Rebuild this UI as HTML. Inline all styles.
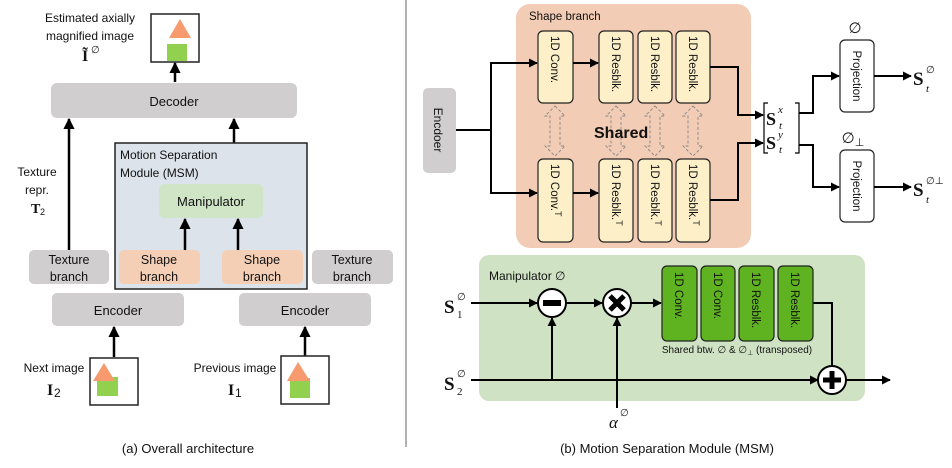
<!DOCTYPE html>
<html><head><meta charset="utf-8"><style>
html,body{margin:0;padding:0;background:#fff}
svg{display:block}
text{font-family:"Liberation Sans","DejaVu Sans",sans-serif;fill:#111}
.s{font-family:"Liberation Serif",serif}
</style></head><body>
<svg width="952" height="468" viewBox="0 0 952 468" xmlns="http://www.w3.org/2000/svg">
<defs>
<marker id="a" viewBox="0 0 10 10" refX="9" refY="5" markerWidth="4.5" markerHeight="4.5" orient="auto-start-reverse"><path d="M0,0L10,5L0,10z" fill="#000"/></marker>
</defs>
<line x1="406" y1="0" x2="406" y2="447" stroke="#999" stroke-width="1.5"/>

<!-- LEFT PANEL -->
<text x="90" y="22" font-size="12" text-anchor="middle">Estimated axially</text>
<text x="90" y="40" font-size="12" text-anchor="middle">magnified image</text>
<text x="82" y="61" font-size="16" font-weight="bold" class="s">Ĩ</text><text x="91" y="53" font-size="10">∅</text>
<rect x="151" y="14" width="48" height="48" fill="#fff" stroke="#222" stroke-width="1.5"/>
<polygon points="180,19 191,38 169,38" fill="#f79a6d"/>
<rect x="167" y="44" width="20" height="17" fill="#92d050"/>
<line x1="175" y1="82" x2="175" y2="63" stroke="#000" stroke-width="2.5" marker-end="url(#a)"/>
<rect x="51" y="83" width="246" height="35" rx="6" fill="#d0cecf"/>
<text x="174" y="106" font-size="13" text-anchor="middle">Decoder</text>
<line x1="69" y1="250" x2="69" y2="119" stroke="#000" stroke-width="2.5" marker-end="url(#a)"/>
<line x1="234" y1="184" x2="234" y2="119" stroke="#000" stroke-width="2.5" marker-end="url(#a)"/>
<text x="37" y="176" font-size="12" text-anchor="middle">Texture</text>
<text x="37" y="194" font-size="12" text-anchor="middle">repr.</text>
<text x="31" y="213" font-size="14" font-weight="bold" class="s">T</text><text x="40" y="215" font-size="9">2</text>
<rect x="115" y="143" width="192" height="146" fill="#dce3ea" stroke="#222" stroke-width="1.5"/>
<text x="120" y="159" font-size="12">Motion Separation</text>
<text x="120" y="177" font-size="12">Module (MSM)</text>
<rect x="159" y="184" width="104" height="34" rx="5" fill="#cfe5c6"/>
<text x="211" y="206" font-size="13" text-anchor="middle">Manipulator</text>
<line x1="185" y1="250" x2="185" y2="219" stroke="#000" stroke-width="2.5" marker-end="url(#a)"/>
<line x1="238" y1="250" x2="238" y2="219" stroke="#000" stroke-width="2.5" marker-end="url(#a)"/>
<rect x="119" y="250" width="81" height="34" rx="5" fill="#f4cfb6"/>
<rect x="222" y="250" width="81" height="34" rx="5" fill="#f4cfb6"/>
<rect x="29" y="250" width="80" height="34" rx="5" fill="#d0cecf"/>
<rect x="312" y="250" width="81" height="34" rx="5" fill="#d0cecf"/>
<g font-size="12.5" text-anchor="middle">
<text x="159" y="264">Shape</text><text x="159" y="281">branch</text>
<text x="262" y="264">Shape</text><text x="262" y="281">branch</text>
<text x="69" y="264">Texture</text><text x="69" y="281">branch</text>
<text x="352" y="264">Texture</text><text x="352" y="281">branch</text>
</g>
<rect x="52" y="293" width="132" height="33" rx="5" fill="#d0cecf"/>
<rect x="239" y="293" width="132" height="33" rx="5" fill="#d0cecf"/>
<text x="118" y="315" font-size="13" text-anchor="middle">Encoder</text>
<text x="305" y="315" font-size="13" text-anchor="middle">Encoder</text>
<line x1="114" y1="357" x2="114" y2="327" stroke="#000" stroke-width="2.5" marker-end="url(#a)"/>
<line x1="305" y1="357" x2="305" y2="327" stroke="#000" stroke-width="2.5" marker-end="url(#a)"/>
<rect x="90" y="358" width="48" height="47" fill="#fff" stroke="#222" stroke-width="1.5"/>
<rect x="97" y="377" width="21" height="19" fill="#92d050"/>
<polygon points="104,363 115,381 93,381" fill="#f79a6d"/>
<rect x="281" y="356" width="48" height="48" fill="#fff" stroke="#222" stroke-width="1.5"/>
<rect x="290" y="378" width="20" height="20" fill="#92d050"/>
<polygon points="298,362 310,381 287,381" fill="#f79a6d"/>
<text x="54" y="372" font-size="12" text-anchor="middle">Next image</text>
<text x="47" y="395" font-size="16" font-weight="bold" class="s">I</text><text x="54" y="397" font-size="12">2</text>
<text x="235" y="372" font-size="12" text-anchor="middle">Previous image</text>
<text x="228" y="395" font-size="16" font-weight="bold" class="s">I</text><text x="235" y="397" font-size="12">1</text>
<text x="188" y="453" font-size="13" text-anchor="middle">(a) Overall architecture</text>

<!-- RIGHT TOP -->
<rect x="516" y="4" width="235" height="244" rx="14" fill="#f2ccb5"/>
<text x="529" y="20" font-size="11.5">Shape branch</text>
<rect x="423" y="88" width="33" height="85" rx="5" fill="#d0cecf"/>
<text transform="translate(434,130) rotate(90)" font-size="12" text-anchor="middle">Encdoer</text>
<polyline points="456,130 491,130" fill="none" stroke="#000" stroke-width="2"/>
<polyline points="491,193 491,63 537,63" fill="none" stroke="#000" stroke-width="2" marker-end="url(#a)"/>
<polyline points="491,130 491,193 537,193" fill="none" stroke="#000" stroke-width="2" marker-end="url(#a)"/>
<g fill="#fdf0c9" stroke="#222" stroke-width="1.2">
<rect x="538" y="31" width="35" height="72" rx="5"/>
<rect x="599" y="31" width="34" height="72" rx="5"/>
<rect x="638" y="31" width="34" height="72" rx="5"/>
<rect x="676" y="31" width="34" height="72" rx="5"/>
<rect x="538" y="159" width="35" height="83" rx="5"/>
<rect x="599" y="159" width="34" height="83" rx="5"/>
<rect x="638" y="159" width="34" height="83" rx="5"/>
<rect x="676" y="159" width="34" height="83" rx="5"/>
</g>
<g font-size="11.5">
<text transform="translate(551,36) rotate(90)">1D Conv.</text>
<text transform="translate(612,36) rotate(90)">1D Resblk.</text>
<text transform="translate(651,36) rotate(90)">1D Resblk.</text>
<text transform="translate(689,36) rotate(90)">1D Resblk.</text>
<text transform="translate(551,164) rotate(90)">1D Conv.<tspan dy="-4" font-size="9">T</tspan></text>
<text transform="translate(612,164) rotate(90)">1D Resblk.<tspan dy="-4" font-size="9">T</tspan></text>
<text transform="translate(651,164) rotate(90)">1D Resblk.<tspan dy="-4" font-size="9">T</tspan></text>
<text transform="translate(689,164) rotate(90)">1D Resblk.<tspan dy="-4" font-size="9">T</tspan></text>
</g>
<line x1="573" y1="63" x2="598" y2="63" stroke="#000" stroke-width="2" marker-end="url(#a)"/>
<line x1="573" y1="193" x2="598" y2="193" stroke="#000" stroke-width="2" marker-end="url(#a)"/>
<g stroke="#888" stroke-width="0.9" stroke-dasharray="3,2" fill="none">
<path d="M555,106 L565,116 L560,116 L560,146 L565,146 L555,156 L545,146 L550,146 L550,116 L545,116 Z"/>
<path d="M616,106 L626,116 L621,116 L621,146 L626,146 L616,156 L606,146 L611,146 L611,116 L606,116 Z"/>
<path d="M655,106 L665,116 L660,116 L660,146 L665,146 L655,156 L645,146 L650,146 L650,116 L645,116 Z"/>
<path d="M693,106 L703,116 L698,116 L698,146 L703,146 L693,156 L683,146 L688,146 L688,116 L683,116 Z"/>
</g>
<text x="594" y="138" font-size="16" font-weight="bold">Shared</text>
<polyline points="710,67 738,67 738,115 763,115" fill="none" stroke="#000" stroke-width="2" marker-end="url(#a)"/>
<polyline points="710,200 738,200 738,143 763,143" fill="none" stroke="#000" stroke-width="2" marker-end="url(#a)"/>
<path d="M768,103 L764,103 L764,153 L768,153 M795,103 L799,103 L799,153 L795,153" fill="none" stroke="#000" stroke-width="1.2"/>
<text x="766" y="125" font-size="18" font-weight="bold" class="s">S</text><text x="778" y="113" font-size="11" font-style="italic" class="s">x</text><text x="779" y="129" font-size="11" font-style="italic" class="s">t</text>
<text x="766" y="149" font-size="18" font-weight="bold" class="s">S</text><text x="778" y="138" font-size="11" font-style="italic" class="s">y</text><text x="779" y="153" font-size="11" font-style="italic" class="s">t</text>
<polyline points="799,113 813,113 813,76 839,76" fill="none" stroke="#000" stroke-width="2" marker-end="url(#a)"/>
<polyline points="799,145 813,145 813,187 839,187" fill="none" stroke="#000" stroke-width="2" marker-end="url(#a)"/>
<rect x="840" y="40" width="34" height="72" rx="5" fill="#fff" stroke="#222" stroke-width="1.2"/>
<rect x="840" y="150" width="34" height="72" rx="5" fill="#fff" stroke="#222" stroke-width="1.2"/>
<text transform="translate(853,76) rotate(90)" font-size="11.5" text-anchor="middle">Projection</text>
<text transform="translate(853,186) rotate(90)" font-size="11.5" text-anchor="middle">Projection</text>
<text x="855" y="33" font-size="15" text-anchor="middle">∅</text>
<text x="853" y="143" font-size="15" text-anchor="middle">∅<tspan font-size="11" dy="3">⊥</tspan></text>
<line x1="874" y1="76" x2="911" y2="76" stroke="#000" stroke-width="2" marker-end="url(#a)"/>
<line x1="874" y1="187" x2="911" y2="187" stroke="#000" stroke-width="2" marker-end="url(#a)"/>
<text x="913" y="85" font-size="19" font-weight="bold" class="s">S</text><text x="926" y="73" font-size="10">∅</text><text x="926" y="92" font-size="11" font-style="italic" class="s">t</text>
<text x="913" y="196" font-size="19" font-weight="bold" class="s">S</text><text x="926" y="184" font-size="10">∅⊥</text><text x="926" y="203" font-size="11" font-style="italic" class="s">t</text>

<!-- RIGHT BOTTOM -->
<rect x="479" y="255" width="386" height="146" rx="10" fill="#cfe3c4"/>
<text x="489" y="280" font-size="12">Manipulator ∅</text>
<text x="444" y="313" font-size="19" font-weight="bold" class="s">S</text><text x="457" y="300" font-size="10">∅</text><text x="457" y="318" font-size="11" class="s">1</text>
<text x="444" y="390" font-size="19" font-weight="bold" class="s">S</text><text x="457" y="377" font-size="10">∅</text><text x="457" y="395" font-size="11" class="s">2</text>
<line x1="471" y1="303" x2="537" y2="303" stroke="#000" stroke-width="2" marker-end="url(#a)"/>
<line x1="566" y1="303" x2="602" y2="303" stroke="#000" stroke-width="2" marker-end="url(#a)"/>
<line x1="631" y1="303" x2="661" y2="303" stroke="#000" stroke-width="2" marker-end="url(#a)"/>
<line x1="471" y1="380" x2="818" y2="380" stroke="#000" stroke-width="2" marker-end="url(#a)"/>
<line x1="552" y1="380" x2="552" y2="318" stroke="#000" stroke-width="2" marker-end="url(#a)"/>
<line x1="617" y1="408" x2="617" y2="318" stroke="#000" stroke-width="2" marker-end="url(#a)"/>
<polyline points="813,303 832,303 832,366" fill="none" stroke="#000" stroke-width="2"/>
<line x1="847" y1="380" x2="890" y2="380" stroke="#000" stroke-width="2" marker-end="url(#a)"/>
<circle cx="552" cy="303" r="14" fill="#fff" stroke="#000" stroke-width="2"/>
<rect x="543" y="300" width="18" height="6" fill="#000"/>
<circle cx="617" cy="303" r="14" fill="#fff" stroke="#000" stroke-width="2"/>
<path d="M610,296 L624,310 M624,296 L610,310" stroke="#000" stroke-width="5"/>
<circle cx="832" cy="380" r="14" fill="#fff" stroke="#000" stroke-width="2"/>
<path d="M823,380 L841,380 M832,371 L832,389" stroke="#000" stroke-width="5"/>
<g fill="#5fb320" stroke="#222" stroke-width="1.2">
<rect x="662" y="266" width="35" height="75" rx="5"/>
<rect x="701" y="266" width="34" height="75" rx="5"/>
<rect x="739" y="266" width="35" height="75" rx="5"/>
<rect x="778" y="266" width="35" height="75" rx="5"/>
</g>
<g font-size="11.5">
<text transform="translate(675,272) rotate(90)">1D Conv.</text>
<text transform="translate(714,272) rotate(90)">1D Conv.</text>
<text transform="translate(752,272) rotate(90)">1D Resblk.</text>
<text transform="translate(791,272) rotate(90)">1D Resblk.</text>
</g>
<text x="737" y="353" font-size="10" text-anchor="middle">Shared btw. ∅ &amp; ∅<tspan font-size="7" dy="2">⊥</tspan><tspan dy="-2"> (transposed)</tspan></text>
<text x="609" y="428" font-size="17" font-style="italic" class="s">α</text><text x="620" y="416" font-size="10">∅</text>
<text x="667" y="453" font-size="13" text-anchor="middle">(b) Motion Separation Module (MSM)</text>
</svg>
</body></html>
